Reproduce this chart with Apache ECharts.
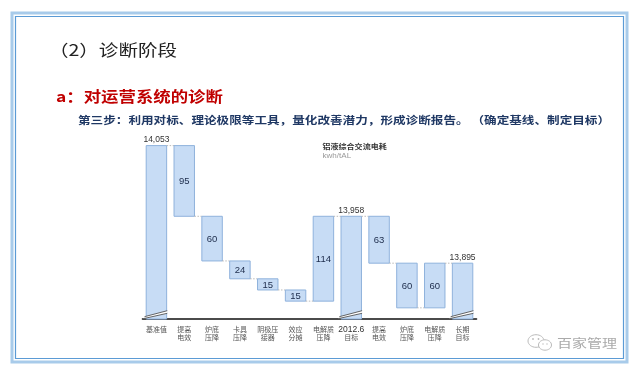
<!DOCTYPE html>
<html><head><meta charset="utf-8">
<script src="https://cdn.jsdelivr.net/npm/echarts/dist/echarts.min.js"></script>
<style>html,body{margin:0;padding:0;background:#fff}#c{width:640px;height:375px}</style>
</head><body><div id="c"></div>
<script>
const categories = ['基准值','提高\n电效','炉底\n压降','卡具\n压降','阴极压\n接器','效应\n分摊','电解质\n压降','2012.6\n目标','提高\n电效','炉底\n压降','电解质\n压降','长期\n目标'];
const values = [14053, 95, 60, 24, 15, 15, 114, 13958, 63, 60, 60, 13895];
const kinds = ['total','down','down','down','down','down','up','total','down','down','up','total'];
const valueLabels = ['14,053','95','60','24','15','15','114','13,958','63','60','60','13,895'];
const axisMin = 13820, axisMax = 14080;

// cumulative levels
let level = 0;
const rows = values.map((v, i) => {
  let lo, hi;
  if (kinds[i] === 'total') { lo = axisMin; hi = v; level = v; }
  else if (kinds[i] === 'down') { lo = level - v; hi = level; level -= v; }
  else { lo = level; hi = level + v; level += v; }
  return [i, lo, hi, level];
});

const chart = echarts.init(document.getElementById('c'), null, {renderer: 'canvas'});
const SANS = 'Liberation Sans, Arial, sans-serif';
const CJK = '"Noto Sans CJK SC", sans-serif';

function renderItem(params, api) {
  const i = api.value(0), lo = api.value(1), hi = api.value(2), end = api.value(3);
  const band = api.size([1, 0])[0];
  const w = band * 0.735;
  const pTop = api.coord([i, hi]);
  const pBot = api.coord([i, lo]);
  const x = pTop[0] - w / 2;
  const kids = [{
    type: 'rect',
    shape: {x: x, y: pTop[1], width: w, height: pBot[1] - pTop[1]},
    style: {fill: '#c7dcf5', stroke: '#8fb2dc', lineWidth: 1}
  }];
  const isTotal = kinds[i] === 'total';
  if (isTotal) {
    const y0 = pBot[1];
    kids.push({type: 'polygon', shape: {points: [[x - 1.7, y0 - 2.3], [x + w + 0.6, y0 - 8.3], [x + w + 0.6, y0 - 5.7], [x - 3, y0 - 0.3]]}, style: {fill: '#fff'}});
    kids.push({type: 'line', shape: {x1: x - 1.7, y1: y0 - 2.3, x2: x + w + 0.6, y2: y0 - 8.3}, style: {stroke: '#555', lineWidth: 0.9}});
    kids.push({type: 'line', shape: {x1: x - 3, y1: y0 - 0.3, x2: x + w + 0.6, y2: y0 - 5.7}, style: {stroke: '#555', lineWidth: 0.9}});
    kids.push({type: 'text', x: pTop[0], y: pTop[1] - 1.5, style: {text: valueLabels[i], font: '8.5px ' + SANS, fill: '#333', align: 'center', verticalAlign: 'bottom'}});
  } else {
    kids.push({type: 'text', x: pTop[0], y: (pTop[1] + pBot[1]) / 2 + 0.5, style: {text: valueLabels[i], font: '9.5px ' + SANS, fill: '#1c2b4a', align: 'center', verticalAlign: 'middle'}});
  }
  if (i < values.length - 1) {
    const pe = api.coord([i, end]);
    const pn = api.coord([i + 1, end]);
    kids.push({type: 'line', shape: {x1: x + w, y1: pe[1], x2: pn[0] - w / 2, y2: pe[1]}, style: {stroke: '#aaa', lineWidth: 0.8, lineDash: [1.5, 1.5]}});
  }
  return {type: 'group', children: kids};
}

const option = {
  animation: false,
  backgroundColor: '#fff',
  grid: {left: 142.5, right: 163.5, top: 125.5, bottom: 56, containLabel: false, outerBoundsMode: 'none'},
  xAxis: {
    type: 'category', data: categories,
    axisLine: {lineStyle: {color: '#111', width: 1.6}},
    axisTick: {show: false},
    axisLabel: {
      interval: 0, fontSize: 7, lineHeight: 8.5, margin: 6, color: '#555', fontFamily: CJK,
      formatter: v => v.indexOf('2012.6') === 0 ? '{b|2012.6}\n目标' : v,
      rich: {b: {fontSize: 8.5, lineHeight: 8.5, fontFamily: SANS, color: '#333'}}
    }
  },
  yAxis: {type: 'value', min: axisMin, max: axisMax, show: false, splitLine: {show: false}},
  series: [{type: 'custom', renderItem: renderItem, data: rows, encode: {x: 0, y: [1, 2]}, z: 2}],
  graphic: [
    {type: 'rect', shape: {x: 12, y: 13, width: 615, height: 349}, style: {fill: null, stroke: '#a8cbea', lineWidth: 3}, z: 10},
    {type: 'rect', shape: {x: 15.5, y: 16.5, width: 608, height: 342}, style: {fill: null, stroke: '#5b9bd5', lineWidth: 1.2}, z: 10},
    {type: 'text', x: 49, y: 50, scaleX: 1.22, style: {text: '（2）诊断阶段', font: '16px ' + CJK, fill: '#222', verticalAlign: 'middle'}, z: 10},
    {type: 'text', x: 56, y: 96.5, scaleX: 1.2, style: {text: 'a：对运营系统的诊断', font: 'bold 14.5px ' + CJK, fill: '#c00000', verticalAlign: 'middle'}, z: 10},
    {type: 'text', x: 78, y: 120, scaleX: 1.2, style: {text: '第三步：利用对标、理论极限等工具，量化改善潜力，形成诊断报告。 （确定基线、制定目标）', font: 'bold 10.5px ' + CJK, fill: '#1f3864', verticalAlign: 'middle'}, z: 10},
    {type: 'text', x: 322.5, y: 146, scaleX: 1.1, style: {text: '铝液综合交流电耗', font: 'bold 7.3px ' + CJK, fill: '#333', verticalAlign: 'middle'}, z: 10},
    {type: 'text', x: 322.5, y: 156.5, scaleX: 1.15, style: {text: 'kwh/tAL', font: '7px ' + SANS, fill: '#999', verticalAlign: 'middle'}, z: 10},
    {type: 'ellipse', shape: {cx: 536, cy: 341, rx: 8, ry: 6.3}, style: {fill: '#fff', stroke: '#bbb', lineWidth: 1}, z: 10},
    {type: 'ellipse', shape: {cx: 545, cy: 345, rx: 6.5, ry: 5.2}, style: {fill: '#fff', stroke: '#bbb', lineWidth: 1}, z: 11},
    {type: 'circle', shape: {cx: 533, cy: 339, r: 0.9}, style: {fill: '#bbb'}, z: 12},
    {type: 'circle', shape: {cx: 538.5, cy: 339, r: 0.9}, style: {fill: '#bbb'}, z: 12},
    {type: 'circle', shape: {cx: 543, cy: 344, r: 0.7}, style: {fill: '#bbb'}, z: 12},
    {type: 'circle', shape: {cx: 547, cy: 344, r: 0.7}, style: {fill: '#bbb'}, z: 12},
    {type: 'text', x: 557, y: 343.5, scaleX: 1.25, style: {text: '百家管理', font: '12px ' + CJK, fill: '#aaa', verticalAlign: 'middle'}, z: 10}
  ]
};
chart.setOption(option);
</script>
</body></html>
